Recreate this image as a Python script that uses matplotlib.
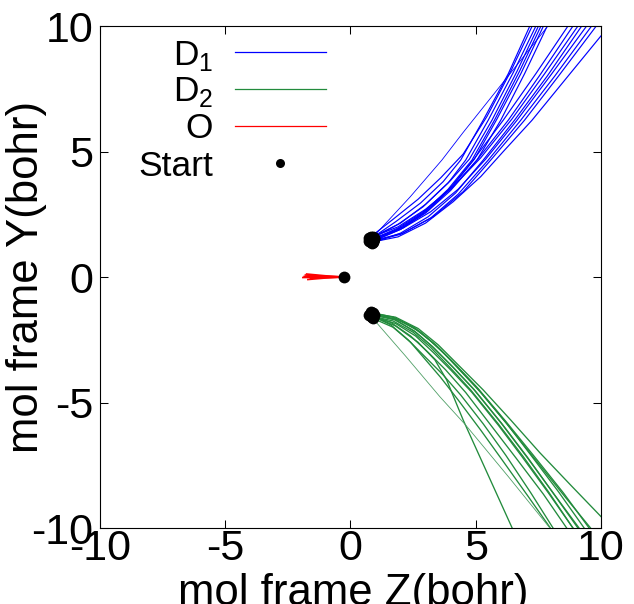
import matplotlib
matplotlib.use("Agg")
import matplotlib.pyplot as plt

plt.rcParams['font.family'] = ['Liberation Sans', 'DejaVu Sans']
plt.rcParams['mathtext.fontset'] = 'custom'
plt.rcParams['mathtext.rm'] = 'Liberation Sans'
plt.rcParams['axes.unicode_minus'] = False

# Trajectories in the molecular frame (Z, Y) in bohr

d1_paths = [
    # steep bundle
    [(0.85, 1.55), (1.8, 2.2), (2.8, 2.95), (3.7, 3.8), (4.4, 4.66), (5.3, 6.25), (6.3, 8.1), (7.25, 10.2)],
    [(0.8, 1.5), (1.9, 2.1), (2.9, 2.8), (3.9, 3.75), (4.6, 4.66), (5.5, 6.25), (6.5, 8.15), (7.5, 10.2)],
    [(0.9, 1.6), (2.0, 2.15), (3.0, 2.9), (4.0, 3.85), (4.75, 4.7), (5.65, 6.25), (6.65, 8.2), (7.6, 10.2)],
    [(0.75, 1.45), (1.8, 1.85), (2.9, 2.55), (3.9, 3.5), (4.85, 4.66), (5.75, 6.25), (6.75, 8.2), (7.7, 10.2)],
    [(0.85, 1.4), (2.0, 1.9), (3.1, 2.65), (4.1, 3.65), (4.95, 4.7), (5.85, 6.3), (6.8, 8.1), (7.8, 10.2)],
    [(0.95, 1.5), (2.1, 2.0), (3.1, 2.7), (4.1, 3.6), (5.05, 4.66), (6.0, 6.25), (6.95, 8.1), (7.95, 10.2)],
    [(0.8, 1.6), (1.7, 2.3), (2.7, 3.1), (3.6, 3.95), (4.5, 4.9), (5.45, 6.4), (6.4, 8.2), (7.35, 10.2)],
    # flatter bundle
    [(0.85, 1.5), (1.9, 1.95), (2.9, 2.6), (3.9, 3.45), (4.9, 4.66), (6.1, 6.25), (7.4, 8.1), (8.75, 10.1)],
    [(0.9, 1.45), (2.0, 1.9), (3.0, 2.55), (4.0, 3.45), (5.05, 4.66), (6.3, 6.25), (7.6, 8.1), (8.95, 10.1)],
    [(0.75, 1.55), (1.9, 2.0), (3.0, 2.7), (4.1, 3.6), (5.2, 4.75), (6.45, 6.3), (7.75, 8.1), (9.15, 10.1)],
    [(0.85, 1.35), (2.0, 1.75), (3.1, 2.4), (4.2, 3.35), (5.3, 4.66), (6.55, 6.25), (7.85, 8.0), (9.3, 10.1)],
    [(0.95, 1.55), (2.1, 1.95), (3.2, 2.6), (4.3, 3.5), (5.4, 4.7), (6.65, 6.25), (8.0, 8.05), (9.5, 10.1)],
    [(0.8, 1.4), (2.0, 1.7), (3.2, 2.35), (4.3, 3.3), (5.5, 4.66), (6.8, 6.25), (8.15, 8.0), (9.7, 10.1)],
    [(0.9, 1.45), (2.1, 1.75), (3.3, 2.4), (4.5, 3.4), (5.6, 4.66), (6.95, 6.25), (8.3, 8.0), (9.85, 10.05)],
    [(0.9, 1.4), (1.9, 1.6), (3.0, 2.15), (4.1, 3.0), (5.2, 4.0), (6.1, 5.0), (7.25, 6.25), (8.6, 7.9), (10.2, 9.85)],
]
d1_thin = [(0.86, 1.55), (2.38, 3.19), (3.65, 4.66), (4.49, 5.75), (6.17, 7.85), (7.88, 10.0), (8.0, 10.15)]

d2_paths = [
    [(0.85, -1.5), (1.7, -1.6), (2.5, -2.0), (3.2, -2.55), (4.0, -3.3), (5.0, -4.35), (6.2, -5.8), (7.4, -7.3), (8.6, -8.8), (9.75, -10.2)],
    [(0.9, -1.45), (1.8, -1.6), (2.7, -2.05), (3.5, -2.7), (4.4, -3.6), (5.3, -4.5), (6.4, -5.7), (7.56, -7.0), (8.8, -8.3), (10.2, -9.75)],
    [(0.8, -1.55), (1.7, -1.75), (2.5, -2.2), (3.2, -2.8), (3.97, -3.6), (4.8, -4.5), (5.9, -5.85), (6.9, -7.16), (7.9, -8.55), (8.95, -10.1)],
    [(0.85, -1.45), (1.8, -1.7), (2.6, -2.2), (3.3, -2.8), (4.1, -3.6), (4.95, -4.5), (6.05, -5.85), (7.05, -7.16), (8.05, -8.55), (9.15, -10.1)],
    [(0.9, -1.6), (1.8, -1.85), (2.6, -2.35), (3.3, -3.0), (4.0, -3.7), (4.85, -4.6), (5.9, -5.9), (6.85, -7.16), (7.9, -8.6), (8.95, -10.1)],
    [(0.75, -1.5), (1.6, -1.8), (2.4, -2.35), (3.1, -3.0), (3.8, -3.7), (4.6, -4.6), (5.6, -5.9), (6.6, -7.2), (7.7, -8.65), (8.7, -10.1)],
    [(0.85, -1.55), (1.6, -1.9), (2.3, -2.5), (3.0, -3.2), (3.7, -3.9), (4.4, -4.7), (5.3, -5.85), (6.2, -7.1), (7.2, -8.6), (8.15, -10.1)],
    [(0.95, -1.5), (1.9, -1.7), (2.8, -2.2), (3.6, -2.9), (4.4, -3.75), (5.2, -4.6), (6.25, -5.85), (7.25, -7.16), (8.3, -8.55), (9.4, -10.1)],
    [(0.8, -1.4), (1.7, -1.6), (2.6, -2.05), (3.4, -2.7), (4.2, -3.5), (5.1, -4.45), (6.2, -5.75), (7.3, -7.1), (8.5, -8.6), (9.6, -10.1)],
    [(0.9, -1.65), (1.7, -2.0), (2.4, -2.6), (3.0, -3.3), (3.6, -4.0), (4.3, -4.9), (5.2, -6.1), (6.1, -7.35), (7.1, -8.75), (8.05, -10.1)],
    [(0.8, -1.5), (1.75, -1.7), (2.55, -2.15), (3.25, -2.75), (4.05, -3.55), (4.9, -4.45), (6.0, -5.8), (7.1, -7.25), (8.2, -8.75), (9.2, -10.1)],
    [(0.85, -1.55), (1.8, -1.95), (2.7, -2.6), (3.37, -3.3), (3.84, -4.1), (4.5, -5.7), (5.5, -7.9), (6.5, -10.1)],
]
d2_thin = [(0.85, -1.6), (2.2, -3.15), (3.57, -4.77), (4.6, -5.9), (6.3, -7.95), (8.0, -10.05)]

o_paths = [
    [(-0.25, 0.0), (-1.0, 0.0), (-1.85, 0.02)],
    [(-0.25, 0.0), (-1.0, 0.05), (-1.75, 0.12)],
    [(-0.25, 0.0), (-1.0, -0.04), (-1.7, -0.1)],
    [(-0.25, 0.0), (-1.0, 0.03), (-1.8, 0.08)],
    [(-0.25, 0.0), (-0.9, -0.02), (-1.6, -0.05)],
    [(-0.25, 0.0), (-1.1, -0.01), (-1.9, -0.02)],
]

ticks = [-10, -5, 0, 5, 10]
legend_labels = ["D$_1$", "D$_2$", "O", "Start"]

blue = "#0000ff"
green = "#228b3c"
red = "#ff0000"

fig = plt.figure(figsize=(6.34, 6.04), dpi=100)
ax = fig.add_axes([0.1577, 0.1258, 0.7902, 0.8311])

for p in d1_paths:
    ax.plot([q[0] for q in p], [q[1] for q in p], color=blue, lw=0.85)
ax.plot([q[0] for q in d1_thin], [q[1] for q in d1_thin], color=blue, lw=0.6)

for p in d2_paths:
    ax.plot([q[0] for q in p], [q[1] for q in p], color=green, lw=0.95)
ax.plot([q[0] for q in d2_thin], [q[1] for q in d2_thin], color="#4f9f66", lw=0.6)

for p in o_paths:
    ax.plot([q[0] for q in p], [q[1] for q in p], color=red, lw=1.2)

# start points = first point of every trajectory
starts = [p[0] for p in d1_paths + [d1_thin] + d2_paths + [d2_thin] + o_paths[:1]]
ax.plot([s[0] for s in starts], [s[1] for s in starts], 'o', color='black',
        ms=8.5, mew=0, zorder=5)

ax.set_xlim(-10, 10)
ax.set_ylim(-10, 10)
ax.set_xticks(ticks)
ax.set_yticks(ticks)
ax.tick_params(direction='in', length=6, width=0.75, top=True, right=True,
               labelsize=31)
ax.tick_params(axis='x', pad=1)
ax.tick_params(axis='y', pad=5)
for s in ax.spines.values():
    s.set_linewidth(0.8)

ax.set_xlabel("mol frame Z(bohr)", fontsize=31.5)
ax.set_ylabel("mol frame Y(bohr)", fontsize=31.5)
ax.xaxis.set_label_coords(0.505, -0.09)
ax.yaxis.set_label_coords(-0.106, 0.5)

# key, drawn by hand to get gnuplot's tight rows
rows = [0.948, 0.875, 0.801, 0.727]
colors = [blue, green, red]
for i, lab in enumerate(legend_labels):
    ax.text(0.2255, rows[i] - 0.025, lab, transform=ax.transAxes,
            ha='right', va='baseline', fontsize=25.5)
    if i < 3:
        ax.plot([0.2695, 0.451], [rows[i], rows[i]], transform=ax.transAxes,
                color=colors[i], lw=0.9)
    else:
        ax.plot([0.359], [rows[i]], 'o', transform=ax.transAxes,
                color='black', ms=6.5, mew=0)

fig.savefig("out.png", dpi=100)
